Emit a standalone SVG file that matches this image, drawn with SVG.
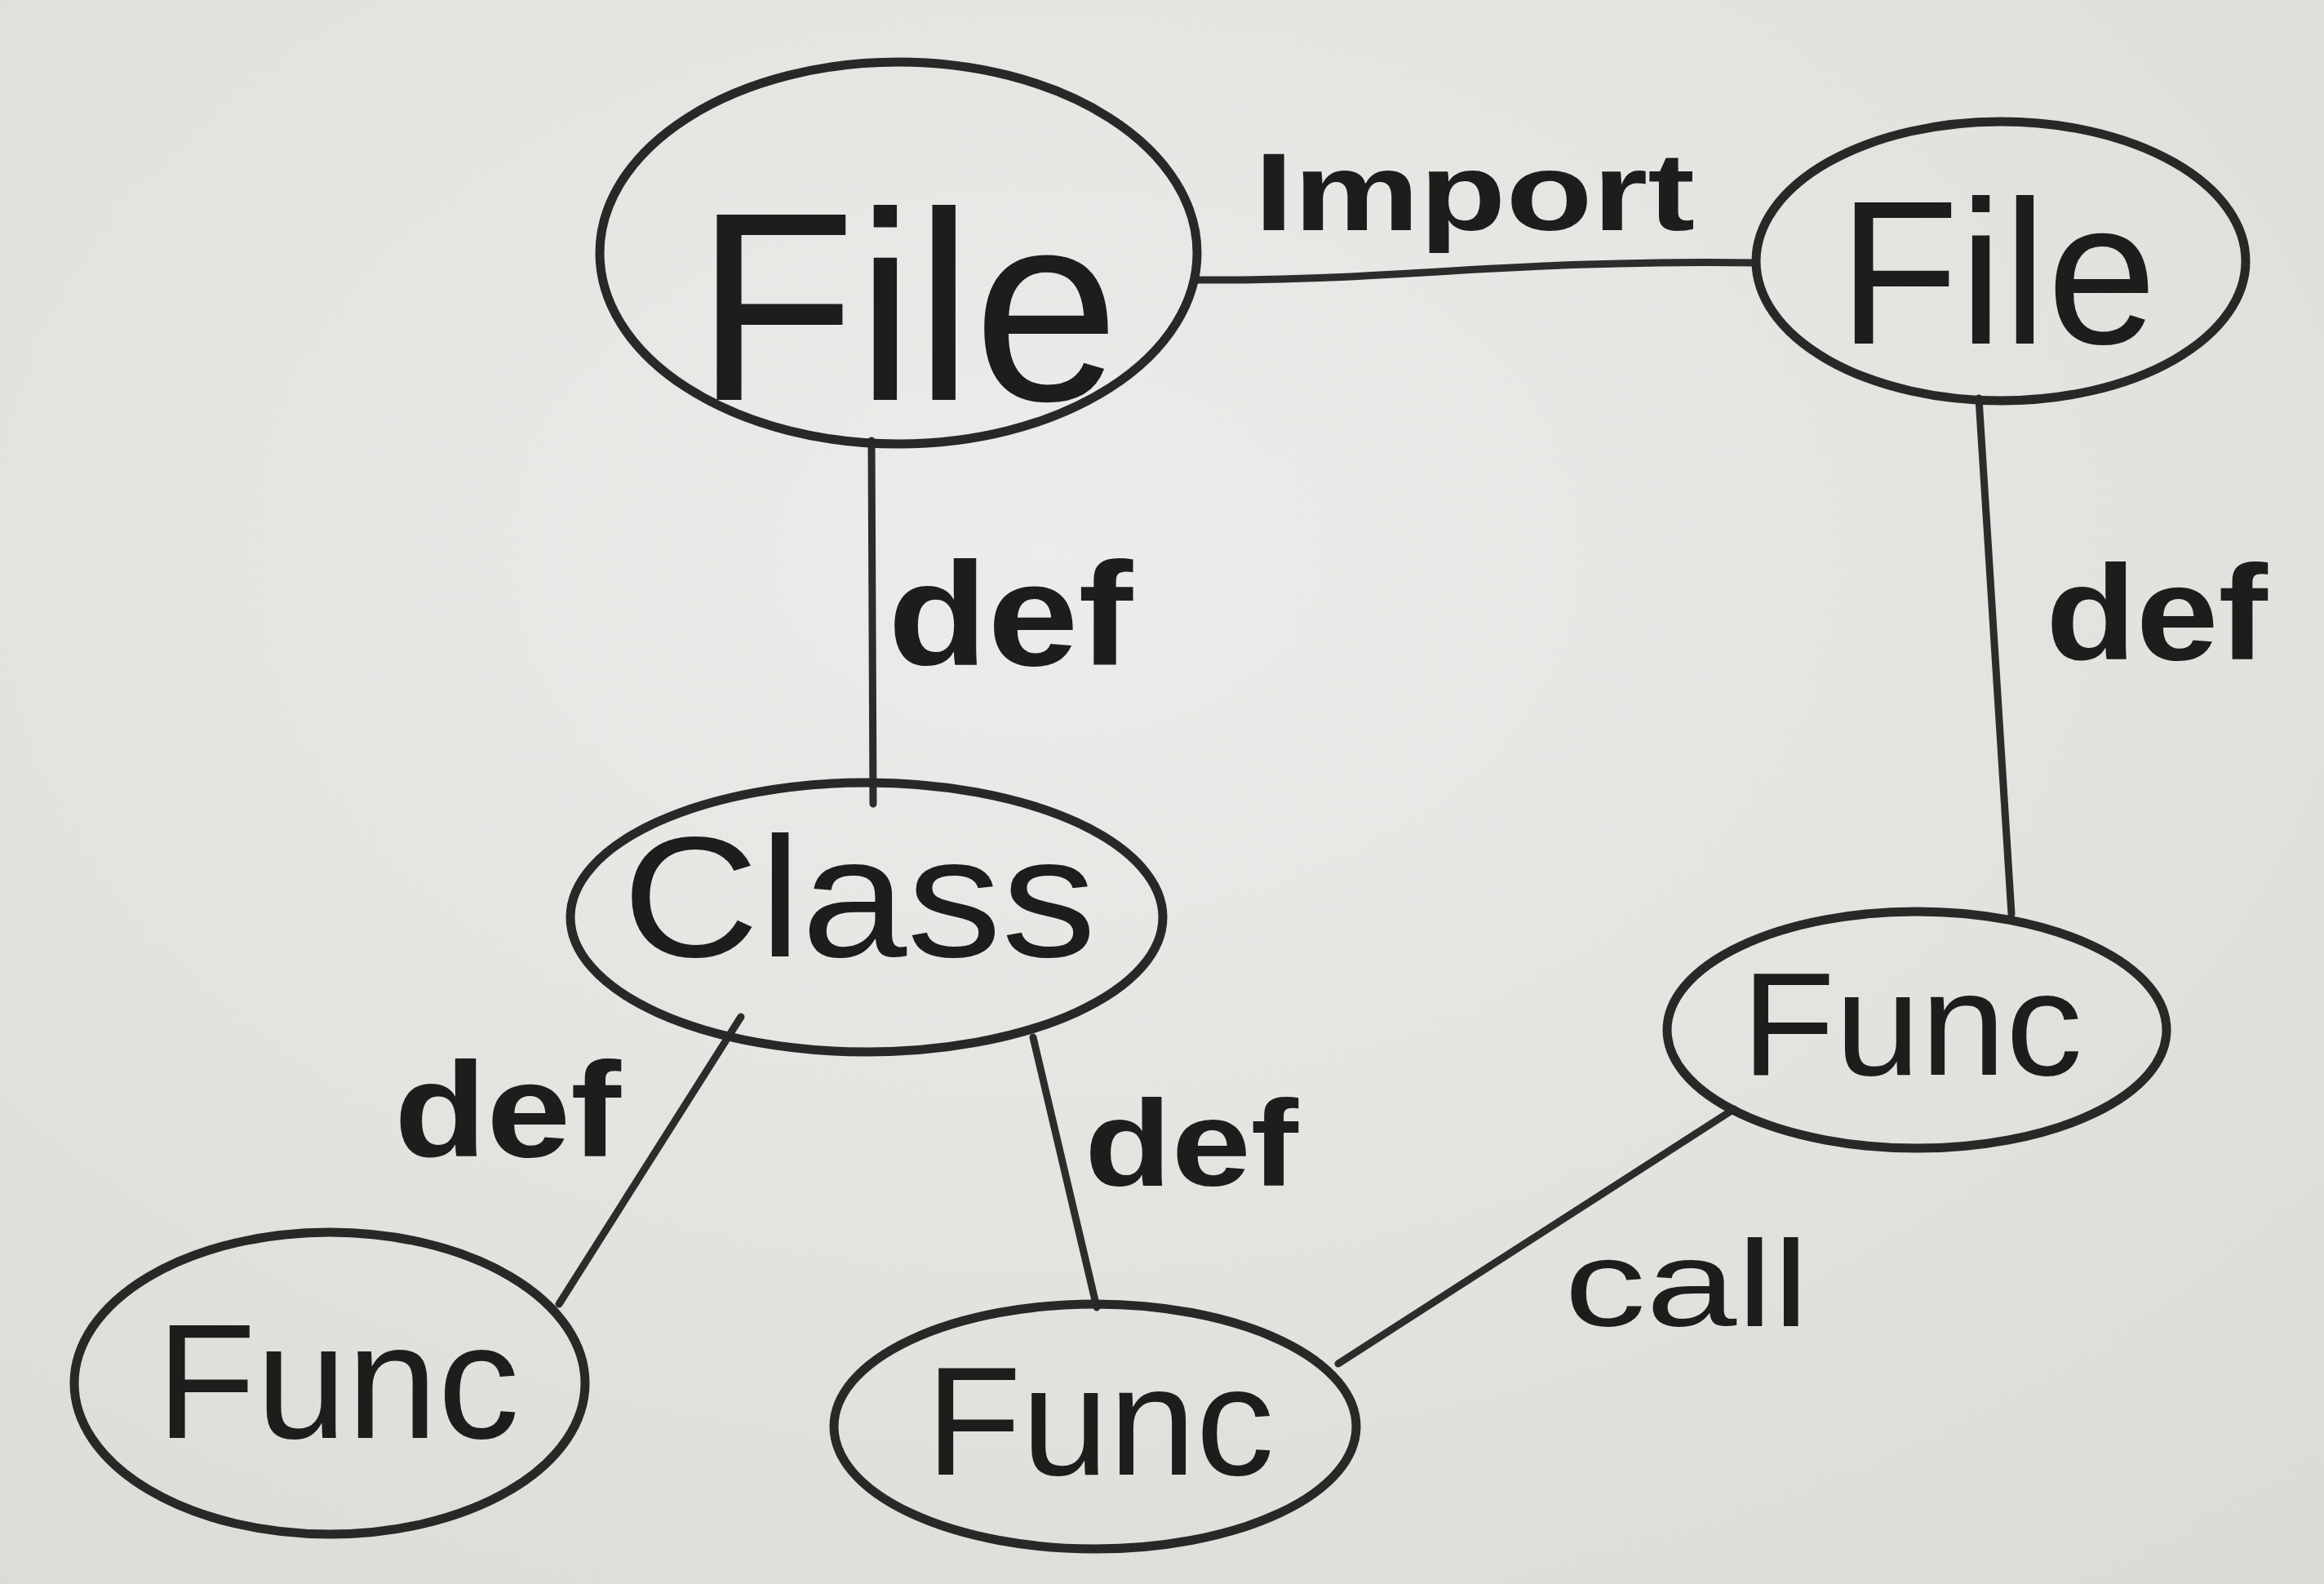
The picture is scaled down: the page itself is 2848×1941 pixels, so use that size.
<svg xmlns="http://www.w3.org/2000/svg" width="2848" height="1941" viewBox="0 0 2848 1941">
<defs>
<style>
.node{fill:none;stroke:#2a2826;stroke-width:11}
.edge{fill:none;stroke:#2e2c2a;stroke-width:9;stroke-linecap:round}
.nt{font-family:"Liberation Sans",Arial,sans-serif;fill:#1f1d1c;text-anchor:middle}
.lbl{font-family:"Liberation Sans",Arial,sans-serif;fill:#1f1d1c;text-anchor:middle;font-weight:bold}
.lbln{font-family:"Liberation Sans",Arial,sans-serif;fill:#1f1d1c;text-anchor:middle}
</style>
<radialGradient id="bg" cx="0.45" cy="0.35" r="0.8">
<stop offset="0" stop-color="#ececea"/>
<stop offset="1" stop-color="#dcdbd8"/>
</radialGradient>
</defs>
<rect x="0" y="0" width="2848" height="1941" fill="url(#bg)"/>
<g id="connectors">
<path class="edge" d="M1468,343 C1700,345 1850,318 2150,322"/>
<path class="edge" d="M1068,540 L1070,985"/>
<path class="edge" d="M2425,488 L2465,1120"/>
<path class="edge" d="M908,1246 L685,1598"/>
<path class="edge" d="M1266,1271 L1344,1602"/>
<path class="edge" d="M2125,1359 L1640,1671"/>
<text class="lbl" x="1807" y="282" font-size="135" textLength="540" lengthAdjust="spacingAndGlyphs">Import</text>
<text class="lbl" x="1238" y="815" font-size="180" textLength="300" lengthAdjust="spacingAndGlyphs">def</text>
<text class="lbl" x="2643" y="808" font-size="165" textLength="272" lengthAdjust="spacingAndGlyphs">def</text>
<text class="lbl" x="622" y="1417" font-size="165" textLength="278" lengthAdjust="spacingAndGlyphs">def</text>
<text class="lbl" x="1460" y="1453" font-size="150" textLength="262" lengthAdjust="spacingAndGlyphs">def</text>
<text class="lbln" x="2067" y="1625" font-size="150" textLength="300" lengthAdjust="spacingAndGlyphs">call</text>
</g>
<g id="file1">
<ellipse class="node" cx="1101" cy="310" rx="366" ry="234"/>
<text class="nt" x="1112" y="490" font-size="330" textLength="520" lengthAdjust="spacingAndGlyphs">File</text>
</g>
<g id="file2">
<ellipse class="node" cx="2452" cy="320" rx="300" ry="171"/>
<text class="nt" x="2448" y="421" font-size="250" textLength="390" lengthAdjust="spacingAndGlyphs">File</text>
</g>
<g id="class">
<ellipse class="node" cx="1062" cy="1124" rx="363" ry="165"/>
<text class="nt" x="1053" y="1172" font-size="210" textLength="581" lengthAdjust="spacingAndGlyphs">Class</text>
</g>
<g id="func-left">
<ellipse class="node" cx="404" cy="1695" rx="313" ry="185"/>
<text class="nt" x="414" y="1762" font-size="200" textLength="445" lengthAdjust="spacingAndGlyphs">Func</text>
</g>
<g id="func-middle">
<ellipse class="node" cx="1342" cy="1748" rx="320" ry="150"/>
<text class="nt" x="1348" y="1807" font-size="190" textLength="427" lengthAdjust="spacingAndGlyphs">Func</text>
</g>
<g id="func-right">
<ellipse class="node" cx="2349" cy="1262" rx="306" ry="145"/>
<text class="nt" x="2343" y="1317" font-size="180" textLength="418" lengthAdjust="spacingAndGlyphs">Func</text>
</g>
</svg>
